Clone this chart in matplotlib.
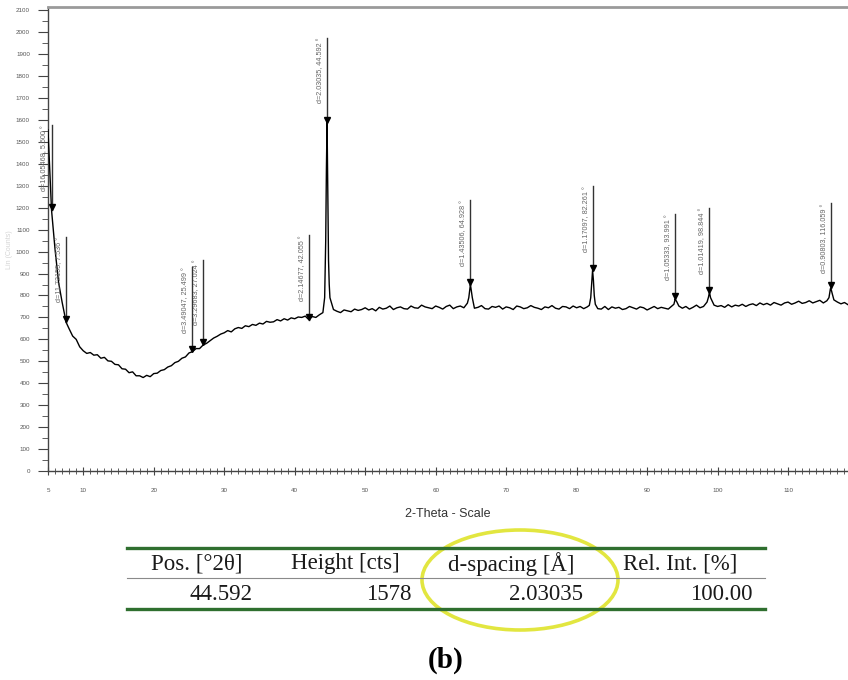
import numpy as np
import matplotlib
matplotlib.use("Agg")
import matplotlib.pyplot as plt
from matplotlib.lines import Line2D
from matplotlib.patches import Ellipse
from matplotlib.ticker import MultipleLocator, FixedLocator
import matplotlib.transforms as mtransforms

# ---------------- data ----------------
# background scan on a 0.5 deg grid from 5.0 to 118.5 (counts)
grid_start = 5.0
grid_step = 0.5
grid_counts = [
    1555, 1190, 1010, 860, 770, 690, 648, 615, 600, 566,
    548, 536, 540, 528, 530, 514, 518, 502, 500, 486,
    484, 466, 464, 448, 452, 434, 434, 426, 436, 430,
    444, 446, 458, 462, 474, 480, 494, 500, 514, 520,
    538, 544, 558, 558, 574, 582, 594, 606, 614, 624,
    630, 640, 634, 648, 654, 650, 662, 658, 668, 664,
    674, 670, 682, 678, 680, 690, 684, 694, 688, 698,
    694, 702, 700, 706, 690, 704, 700, 712, 722, 1380,
    790, 736, 728, 722, 734, 730, 726, 738, 732, 736,
    744, 734, 740, 730, 746, 738, 742, 752, 736, 744,
    748, 740, 738, 752, 744, 742, 756, 748, 744, 740,
    752, 746, 738, 750, 756, 740, 748, 752, 744, 765,
    835, 742, 746, 754, 740, 738, 750, 746, 752, 738,
    748, 744, 736, 752, 748, 740, 744, 754, 746, 742,
    736, 748, 744, 754, 742, 738, 750, 748, 740, 752,
    744, 750, 740, 748, 790, 800, 740, 738, 750, 736,
    748, 742, 746, 736, 740, 750, 744, 738, 748, 744,
    734, 742, 750, 740, 746, 742, 738, 752, 782, 752,
    742, 750, 738, 746, 756, 744, 750, 770, 790, 756,
    750, 754, 746, 758, 748, 756, 752, 760, 750, 758,
    762, 754, 766, 758, 764, 756, 768, 762, 756, 766,
    770, 760, 766, 774, 764, 768, 776, 766, 772, 778,
    766, 776, 830, 780, 770, 762, 768, 758,
]

# extra scan points on the peak flanks / apexes
extra_theta = [7.536, 44.25, 44.4, 44.592, 44.7, 44.8, 44.9,
               64.7, 64.928, 65.2,
               81.8, 82.15, 82.261, 82.38, 82.65,
               93.8, 93.991, 94.2,
               98.7, 98.844,
               115.8, 116.059, 116.25]
extra_counts = [680, 790, 1050, 1590, 1250, 960, 850,
                790, 850, 790,
                755, 860, 915, 870, 760,
                760, 785, 772,
                792, 815,
                790, 835, 810]

# peak list (position 2theta, d-spacing, marker counts)
peak_pos = [5.5, 7.536, 25.499, 27.024, 42.055, 44.592, 64.928, 82.261, 93.991, 98.844, 116.059]
peak_d = ["16.05468", "11.72155", "3.49047", "3.29683", "2.14677", "2.03035",
          "1.43506", "1.17097", "1.05333", "1.01419", "0.90803"]
peak_counts = [1190, 680, 545, 578, 690, 1590, 850, 915, 785, 815, 835]
label_rise = 385  # counts between marker and top of annotation line

# results table
table_headers = ["Pos. [°2θ]", "Height [cts]", "d-spacing [Å]", "Rel. Int. [%]"]
table_values = ["44.592", "1578", "2.03035", "100.00"]

# ---------------- build curve ----------------
grid_theta = grid_start + grid_step * np.arange(len(grid_counts))
theta = np.concatenate([grid_theta, extra_theta])
counts = np.concatenate([grid_counts, extra_counts])
order = np.argsort(theta)
theta, counts = theta[order], counts[order]

# ---------------- figure ----------------
W, H = 848, 680
fig = plt.figure(figsize=(W / 100, H / 100), dpi=100)
fig.patch.set_facecolor("white")

def fx(px):
    return px / W

def fy(py):
    return 1 - py / H

ax = fig.add_axes([fx(48), fy(471), 800 / W, 464 / H])
ax.set_xlim(5, 118.5)
ax.set_ylim(0, 2115)

ax.plot(theta, counts, color="black", lw=1.0, zorder=3)

# annotations
lab_off = mtransforms.offset_copy(ax.transData, fig=fig, x=-3, y=0, units="dots")
for p, d, c in zip(peak_pos, peak_d, peak_counts):
    top = c + label_rise
    ax.plot([p, p], [c, top], color="#333333", lw=1.0, zorder=4)
    ax.plot([p], [c + 12], marker="v", color="black", ms=5, zorder=5)
    ax.text(p, top, f"d={d}, {p:.3f} °", transform=lab_off, rotation=90,
            ha="right", va="top", fontsize=5.2, color="#666666",
            family="Liberation Sans")

# spines
for s in ["left", "bottom"]:
    ax.spines[s].set_color("#444444")
    ax.spines[s].set_linewidth(1.0)
ax.spines["top"].set_color("#9a9a9a")
ax.spines["top"].set_linewidth(2.0)
ax.spines["right"].set_visible(False)

# ticks
ax.xaxis.set_major_locator(FixedLocator([5, 10, 20, 30, 40, 50, 60, 70, 80, 90, 100, 110]))
ax.xaxis.set_minor_locator(MultipleLocator(1))
ax.yaxis.set_major_locator(MultipleLocator(100))
ax.yaxis.set_minor_locator(MultipleLocator(50))
ax.tick_params(axis="x", which="major", direction="inout", length=6, width=0.8,
               colors="#444444", labelsize=4.5, labelcolor="#555555", pad=9)
ax.tick_params(axis="x", which="minor", direction="inout", length=4, width=0.6, colors="#444444")
ax.tick_params(axis="y", which="major", direction="out", length=7, width=0.8,
               colors="#444444", labelsize=4.5, labelcolor="#555555", pad=6)
ax.tick_params(axis="y", which="minor", direction="out", length=4, width=0.6, colors="#444444")
for lab in ax.get_xticklabels() + ax.get_yticklabels():
    lab.set_family("Liberation Sans")

ax.set_xlabel("2-Theta - Scale", fontsize=9, color="#333333", family="Liberation Sans", labelpad=11)
fig.text(fx(10), fy(250), "Lin (Counts)", rotation=90, fontsize=5, color="#d4d4d4",
         ha="center", va="center", family="Liberation Sans")

# ---------------- table ----------------
green = "#2f6f2f"
fig.add_artist(Line2D([fx(127), fx(765)], [fy(548), fy(548)], color=green, lw=2.4))
fig.add_artist(Line2D([fx(127), fx(765)], [fy(609), fy(609)], color=green, lw=2.4))
fig.add_artist(Line2D([fx(127), fx(765)], [fy(578), fy(578)], color="#8a8a8a", lw=0.8))

head_x = [197, 345, 511, 680]
val_right = [253, 412, 583, 753]
for hx, h in zip(head_x, table_headers):
    fig.text(fx(hx), fy(564), h, ha="center", va="center", fontsize=16.5,
             family="Liberation Serif", color="#1a1a1a")
for vx, v in zip(val_right, table_values):
    fig.text(fx(vx), fy(595), v, ha="right", va="center", fontsize=16.5,
             family="Liberation Serif", color="#1a1a1a")

ell = Ellipse((520 / 100, (H - 580) / 100), 1.96, 1.0, transform=fig.dpi_scale_trans,
              fill=False, edgecolor="#e2e640", lw=2.6)
fig.add_artist(ell)

fig.text(fx(446), fy(660), "(b)", ha="center", va="center", fontsize=21,
         fontweight="bold", family="Liberation Serif", color="black")

fig.savefig("out.png", dpi=100)
